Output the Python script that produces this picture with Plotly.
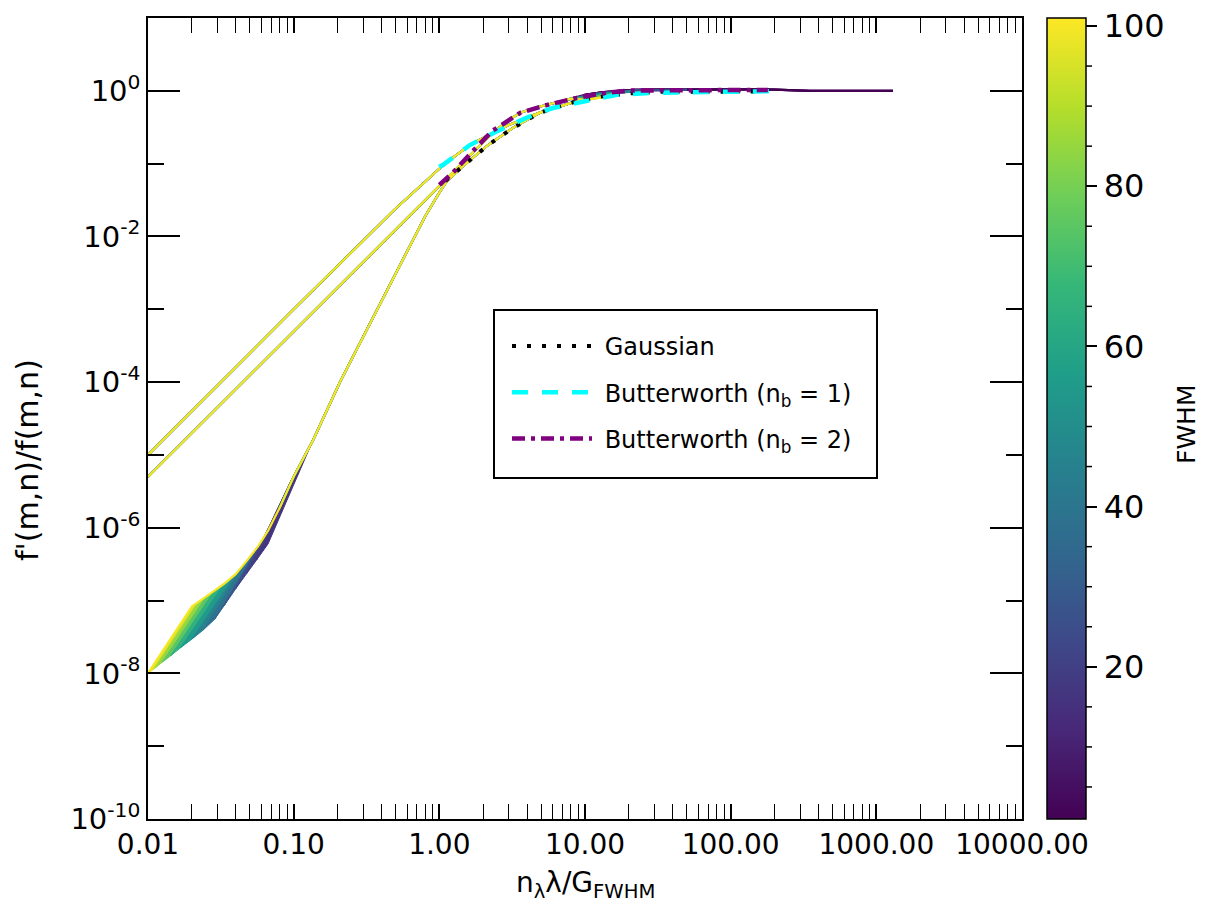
import plotly.graph_objects as go
from plotly.colors import sample_colorscale

CMIN, CMAX = 1.0, 101.0
FONT = "DejaVu Sans"

# ---------------- data ----------------
# Rising parts of the three coloured families (identical for all FWHM levels)
gauss_rise_x = [0.08, 0.1, 0.136, 0.208, 0.3, 0.4, 0.5, 0.66, 0.8, 1.0, 1.13, 1.46, 2.13, 3.2, 4.9, 8.0]
gauss_rise_y = [1.86e-6, 5.0e-6, 1.6e-5, 1.0e-4, 4.2e-4, 1.3e-3, 3.1e-3, 9.1e-3, 0.019, 0.040, 0.058, 0.093, 0.176, 0.31, 0.50, 0.68]
bw1_rise_x = [0.01, 0.1, 0.5, 0.8, 1.0, 1.3, 1.62, 2.2, 3.0, 4.0, 5.0, 6.5, 8.0]
bw1_rise_y = [1e-5, 1e-3, 0.024, 0.056, 0.085, 0.13, 0.18, 0.25, 0.34, 0.43, 0.51, 0.60, 0.68]
bw2_rise_x = [0.01, 0.1, 0.5, 1.0, 1.23, 1.68, 2.3, 3.0, 3.6, 4.5, 5.5, 6.5, 8.0]
bw2_rise_y = [5e-6, 5e-4, 0.0125, 0.05, 0.074, 0.14, 0.26, 0.40, 0.50, 0.58, 0.64, 0.70, 0.78]

# Plateau of the coloured curves per FWHM level
fwhm_levels = [1, 25, 50, 75, 100]
plateau_x = [10, 13, 17, 22, 30, 50, 100, 150, 200, 260, 350, 600, 1300]
plateau_f1 = [0.88, 0.95, 1.00, 1.03, 1.04, 1.05, 1.05, 1.05, 1.04, 1.02, 1.00, 1.00, 1.00]
plateau_f25 = [0.86, 0.93, 0.98, 1.01, 1.02, 1.03]
plateau_f50 = [0.83, 0.90, 0.95, 0.98]
plateau_f75 = [0.79, 0.86, 0.91]
plateau_f100 = [0.75, 0.81]
plateaus = [plateau_f1, plateau_f25, plateau_f50, plateau_f75, plateau_f100]

# Low-frequency fan of the Gaussian family (first and second sample of each FWHM)
fan_fwhm = [100, 90, 80, 70, 60, 50, 42, 35, 30, 25, 21, 18, 15]
fan_low_x = [0.010, 0.0111, 0.0125, 0.0143, 0.0167, 0.020, 0.0238, 0.0286, 0.0333, 0.040, 0.0476, 0.0556, 0.0667]
fan_low_y = [1.0e-8, 1.17e-8, 1.42e-8, 1.74e-8, 2.24e-8, 2.95e-8, 3.9e-8, 5.5e-8, 8.5e-8, 1.45e-7, 2.35e-7, 3.6e-7, 6.0e-7]
fan_up_x = [0.020, 0.0222, 0.025, 0.0286, 0.0333, 0.040, 0.0476, 0.0571, 0.0667, 0.080, 0.0952, 0.111, 0.133]
fan_up_y = [8.3e-8, 9.6e-8, 1.12e-7, 1.37e-7, 1.7e-7, 2.3e-7, 3.5e-7, 5.6e-7, 9.1e-7, 1.86e-6, 4.3e-6, 7.5e-6, 1.45e-5]

# Reference curves (legend)
ref_gauss_x = [1.1, 1.19, 1.46, 2.13, 3.21, 4.9, 7.9, 12.7, 20, 34, 60, 89, 148]
ref_gauss_y = [0.058, 0.066, 0.093, 0.176, 0.31, 0.50, 0.68, 0.83, 0.92, 0.97, 0.97, 0.97, 0.98]
ref_bw1_x = [1.0, 1.09, 1.62, 2.5, 4.0, 6.0, 10.4, 16.6, 30, 75, 202]
ref_bw1_y = [0.09, 0.10, 0.18, 0.28, 0.43, 0.58, 0.73, 0.88, 0.94, 0.97, 0.99]
ref_bw2_x = [1.0, 1.23, 1.68, 2.3, 3.6, 5.5, 8.8, 14, 20, 50, 100, 180]
ref_bw2_y = [0.051, 0.074, 0.145, 0.28, 0.50, 0.64, 0.80, 0.94, 1.01, 1.03, 1.03, 1.03]

x_tickvals = [0.01, 0.1, 1, 10, 100, 1000, 10000]
x_ticktext = ["0.01", "0.10", "1.00", "10.00", "100.00", "1000.00", "10000.00"]
y_exponents = [0, -2, -4, -6, -8, -10]
cbar_ticks = [20, 40, 60, 80, 100]


def vcolor(v):
    return sample_colorscale("Viridis", [(v - CMIN) / (CMAX - CMIN)])[0]


plot_l, plot_r, plot_t, plot_b = 148, 1022, 18, 819
pw = plot_r - plot_l
ph = plot_b - plot_t


def px_x(p):
    return (p - plot_l) / pw


def px_y(p):
    return (plot_b - p) / ph


fig = go.Figure()

# ---- fan polygons (strip between consecutive FWHM samples) ----
for i in range(len(fan_fwhm) - 1):
    fmid = 0.5 * (fan_fwhm[i] + fan_fwhm[i + 1])
    c = vcolor(fmid)
    fig.add_trace(go.Scatter(
        x=[fan_low_x[i], fan_up_x[i], fan_up_x[i + 1], fan_low_x[i + 1], fan_low_x[i]],
        y=[fan_low_y[i], fan_up_y[i], fan_up_y[i + 1], fan_low_y[i + 1], fan_low_y[i]],
        mode="lines", fill="toself", fillcolor=c,
        line=dict(color=c, width=1), showlegend=False, hoverinfo="skip"))

# ---- coloured family curves, dark first so yellow ends on top ----
for lev, plat in zip(fwhm_levels, plateaus):
    c = vcolor(lev)
    px = plateau_x[:len(plat)]
    for rx, ry in [(gauss_rise_x, gauss_rise_y), (bw1_rise_x, bw1_rise_y), (bw2_rise_x, bw2_rise_y)]:
        xs = list(rx) + list(px)
        ys = list(ry) + list(plat)
        if lev == fwhm_levels[-1] and rx is gauss_rise_x:
            xs = [fan_low_x[0]] + [v for v in fan_up_x if v < rx[0]] + xs
            ys = [fan_low_y[0]] + [fan_up_y[k] for k, v in enumerate(fan_up_x) if v < rx[0]] + ys
        fig.add_trace(go.Scatter(x=xs, y=ys, mode="lines",
                                 line=dict(color=c, width=2.2),
                                 showlegend=False, hoverinfo="skip"))

# ---- reference curves ----
NB = "\u00a0"
fig.add_trace(go.Scatter(x=ref_gauss_x, y=ref_gauss_y, mode="lines", name=NB + "Gaussian",
                         legendgroup="a",
                         line=dict(color="black", width=4, dash="4px,11px")))
fig.add_trace(go.Scatter(x=ref_bw1_x, y=ref_bw1_y, mode="lines",
                         name=NB + "Butterworth (n<sub>b</sub> = 1)", legendgroup="b",
                         line=dict(color="cyan", width=4.5, dash="16px,14px")))
fig.add_trace(go.Scatter(x=ref_bw2_x, y=ref_bw2_y, mode="lines",
                         name=NB + "Butterworth (n<sub>b</sub> = 2)", legendgroup="c",
                         line=dict(color="purple", width=4.5, dash="13px,6px,4px,6px")))

# ---- colourbar carrier ----
fig.add_trace(go.Scatter(
    x=[None], y=[None], mode="markers", showlegend=False, hoverinfo="skip",
    marker=dict(color=[CMIN], colorscale="Viridis", cmin=CMIN, cmax=CMAX, showscale=True,
                colorbar=dict(thickness=39, thicknessmode="pixels", len=1, lenmode="fraction",
                              y=0.5, yanchor="middle", x=px_x(1047), xanchor="left",
                              xpad=0, ypad=0, outlinewidth=1.5, outlinecolor="black",
                              tickmode="array", tickvals=cbar_ticks, ticks="outside",
                              ticklen=11, tickwidth=1.5, tickcolor="black",
                              tickfont=dict(size=32, family=FONT, color="black")))))

# colourbar minor ticks
cb_right = px_x(1047 + 39)
shapes = []
for v in range(5, 100, 5):
    if v % 20 == 0:
        continue
    yp = (v - CMIN) / (CMAX - CMIN)
    shapes.append(dict(type="line", xref="paper", yref="paper", x0=cb_right, x1=cb_right + 6 / pw,
                       y0=yp, y1=yp, line=dict(color="black", width=1.5)))
# legend frame
shapes.append(dict(type="rect", xref="paper", yref="paper", x0=px_x(494), x1=px_x(877),
                   y0=px_y(478), y1=px_y(310), line=dict(color="black", width=2),
                   fillcolor="white", layer="above"))

annotations = [
    dict(text="f'(m,n)/f(m,n)", xref="paper", yref="paper", x=px_x(27), y=px_y(460),
         textangle=-90, showarrow=False, xanchor="center", yanchor="middle",
         font=dict(size=30, family=FONT, color="black")),
    dict(text="n<sub>λ</sub>λ/G<sub>FWHM</sub>", xref="paper", yref="paper", x=px_x(585), y=px_y(884),
         showarrow=False, xanchor="center", yanchor="middle",
         font=dict(size=28, family=FONT, color="black")),
    dict(text="FWHM", xref="paper", yref="paper", x=px_x(1186), y=px_y(425),
         textangle=-90, showarrow=False, xanchor="center", yanchor="middle",
         font=dict(size=25, family=FONT, color="black")),
]

x_minor = [m * 10 ** e for e in range(-2, 4) for m in range(2, 10)]
y_minor = [10.0 ** e for e in [1, -1, -3, -5, -7, -9]]

fig.update_layout(
    width=1212, height=910,
    margin=dict(l=plot_l, r=1212 - plot_r, t=plot_t, b=910 - plot_b),
    paper_bgcolor="white", plot_bgcolor="white",
    font=dict(family=FONT, color="black"),
    shapes=shapes, annotations=annotations,
    legend=dict(x=px_x(507), y=px_y(324),
                xanchor="left", yanchor="top", bgcolor="rgba(0,0,0,0)",
                borderwidth=0, font=dict(size=24, family=FONT, color="black"),
                itemwidth=80, tracegroupgap=12, traceorder="grouped"),
    xaxis=dict(type="log", range=[-2, 4], showgrid=False, zeroline=False,
               showline=True, linecolor="black", linewidth=1.5, mirror="ticks",
               ticks="inside", ticklen=15, tickwidth=1.5, tickcolor="black",
               tickmode="array", tickvals=x_tickvals, ticktext=x_ticktext,
               tickfont=dict(size=28, family=FONT, color="black"),
               minor=dict(tickmode="array", tickvals=x_minor, ticks="inside", ticklen=15,
                          tickwidth=1, tickcolor="black", showgrid=False)),
    yaxis=dict(type="log", range=[-10, 1], showgrid=False, zeroline=False,
               showline=True, linecolor="black", linewidth=1.5, mirror="ticks",
               ticks="inside", ticklen=32, tickwidth=1.5, tickcolor="black",
               tickmode="array", tickvals=[10.0 ** e for e in y_exponents],
               ticktext=["10<sup>%d</sup>" % e for e in y_exponents],
               tickfont=dict(size=29, family=FONT, color="black"),
               minor=dict(tickmode="array", tickvals=y_minor, ticks="inside", ticklen=16,
                          tickwidth=1.5, tickcolor="black", showgrid=False)),
)

fig.write_html("out.html")
